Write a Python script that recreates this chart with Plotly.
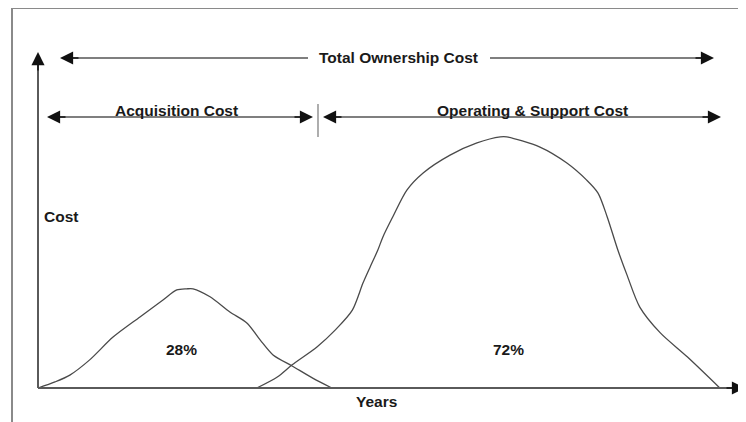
import plotly.graph_objects as go

# ---------------- data (years / relative cost units) ----------------
acq_years = [0, 2.4, 4.5, 7.3, 10.6, 14.4, 17.7, 19.6, 21.0, 21.9, 24.3, 27.1, 29.5, 31.4, 33.2, 35.9, 38.8, 41.5]
acq_cost = [0, 1.6, 3.4, 7.4, 13.4, 18.7, 23.2, 25.8, 26.1, 26.1, 24.0, 20.0, 17.1, 12.6, 8.7, 5.8, 2.6, 0]

ops_years = [30.9, 33.8, 35.9, 39.4, 42.0, 44.4, 45.9, 46.9, 48.0, 48.7, 50.1, 52.1, 54.4, 58.2, 62.0,
             65.3, 66.2, 70.9, 74.7, 77.5, 79.1, 80.4, 81.9, 83.2, 85.0, 87.9, 91.7, 96.3]
ops_cost = [0, 2.9, 6.1, 10.8, 15.3, 20.5, 27.6, 31.8, 36.3, 39.7, 45.0, 52.1, 56.6, 61.3, 64.5,
            66.1, 66.1, 63.4, 59.2, 54.7, 51.3, 45.0, 36.3, 29.7, 21.3, 14.5, 8.2, 0]

shares = [28, 72]
span_labels = ["Total Ownership Cost", "Acquisition Cost", "Operating & Support Cost"]
axis_labels = ["Cost", "Years"]

# ---------------- layout helpers (screen pixel -> data units) ----------------
W, H = 746, 422
PAGE_OFF = 8              # html body margin: the figure starts 8px into the page
OX, OY = 38, 388          # screen pixel position of the origin
SX, SY = 7.08, 3.8        # pixels per unit


def X(px):
    return (px - OX) / SX


def Y(py):
    return (OY - py) / SY


FONT = dict(family="Liberation Sans, Arial, sans-serif", size=15.5, color="#1a1a1a", weight="bold")
CURVE = dict(color="#4a4a4a", width=1.3, shape="spline", smoothing=0.8)
AXCOL = "#5a5a5a"
ARCOL = "#111111"

fig = go.Figure()
fig.add_trace(go.Scatter(x=acq_years, y=acq_cost, mode="lines", line=CURVE, hoverinfo="skip"))
fig.add_trace(go.Scatter(x=ops_years, y=ops_cost, mode="lines", line=CURVE, hoverinfo="skip"))

shapes = []


def seg(x0, y0, x1, y1, color, width):
    shapes.append(dict(type="line", xref="x", yref="y", x0=X(x0), y0=Y(y0), x1=X(x1), y1=Y(y1),
                       line=dict(color=color, width=width), layer="above"))


# frame
seg(12, 8, 760, 8, "#8a8a8a", 2)
seg(12, 8, 12, 440, "#8a8a8a", 2)

# axes
seg(38, 388, 38, 60, AXCOL, 2)
seg(38, 388, 738, 388, AXCOL, 2)
# span lines
seg(66, 58, 308, 58, "#555555", 1.5)
seg(490, 58, 708, 58, "#555555", 1.5)
seg(53, 117, 307, 117, "#555555", 1.5)
seg(329, 117, 715, 117, "#555555", 1.5)
seg(318, 104, 318, 137, "#777777", 1.2)

annotations = []


def head(px, py, dx, dy):
    """arrow head whose tip is at (px, py), pointing along (dx, dy)"""
    annotations.append(dict(x=X(px), y=Y(py), xref="x", yref="y", text="", showarrow=True,
                            ax=-dx * 20, ay=-dy * 20, arrowhead=2, arrowsize=1.75, arrowwidth=1.5,
                            arrowcolor=ARCOL, standoff=0))


head(38, 52, 0, -1)
head(745, 388, 1, 0)
head(60, 58, -1, 0)
head(714, 58, 1, 0)
head(47, 117, -1, 0)
head(313, 117, 1, 0)
head(323, 117, -1, 0)
head(721, 117, 1, 0)


def label(text, px, py, xanchor="center"):
    annotations.append(dict(x=X(px), y=Y(py), xref="x", yref="y", text=text, showarrow=False,
                            font=FONT, xanchor=xanchor, yanchor="middle", bgcolor="rgba(0,0,0,0)"))


label(span_labels[0], 398, 57)
label(span_labels[1], 176, 110)
label(span_labels[2], 532, 110)
label(axis_labels[0], 42, 216, xanchor="left")
label(axis_labels[1], 376, 401)
label(f"{shares[0]}%", 181, 349)
label(f"{shares[1]}%", 508, 349)

fig.update_layout(
    width=W, height=H, margin=dict(l=0, r=0, t=0, b=0),
    paper_bgcolor="white", plot_bgcolor="white", showlegend=False,
    xaxis=dict(range=[X(PAGE_OFF), X(PAGE_OFF + W)], visible=False, fixedrange=True),
    yaxis=dict(range=[Y(PAGE_OFF + H), Y(PAGE_OFF)], visible=False, fixedrange=True),
    shapes=shapes, annotations=annotations,
)

fig.write_html("out.html")
